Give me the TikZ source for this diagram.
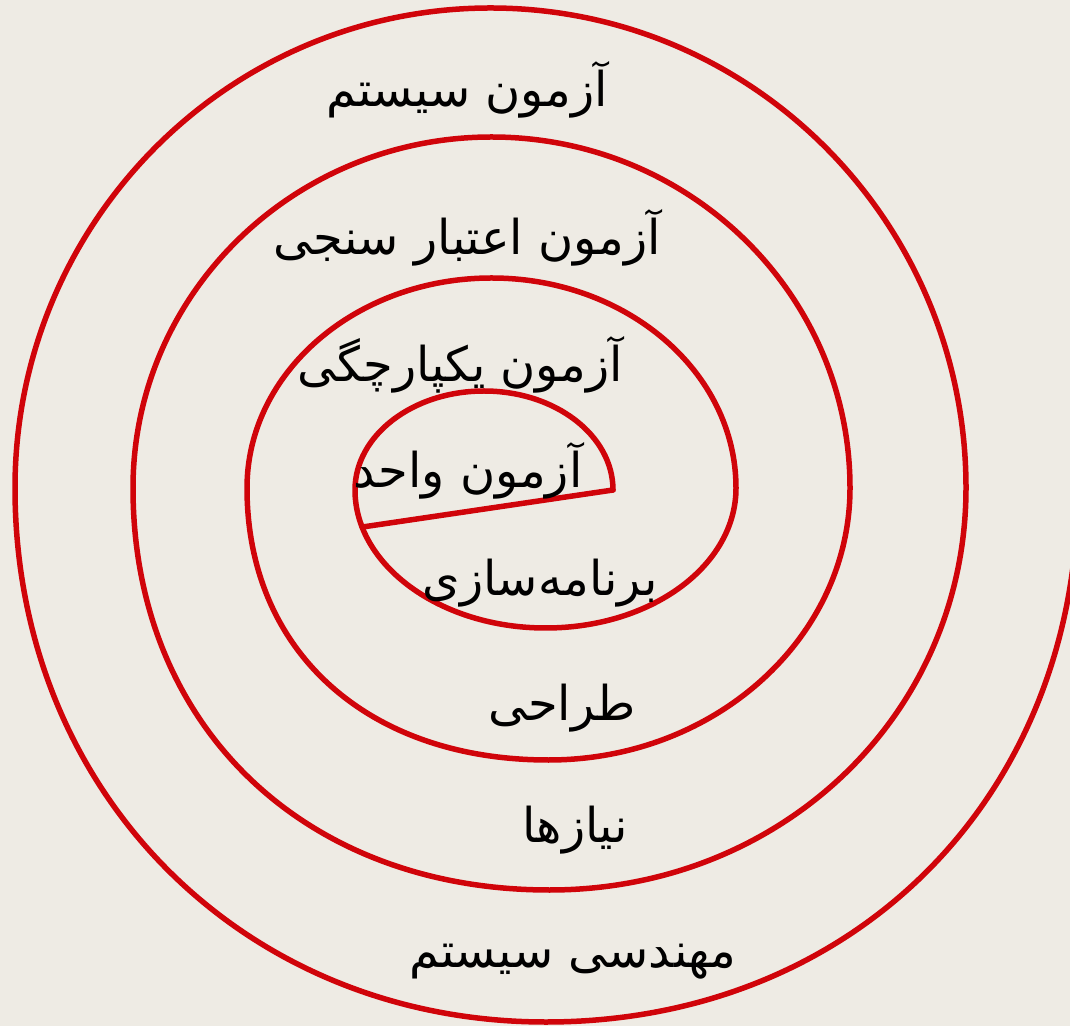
\documentclass[tikz,border=0pt]{standalone}
\usepackage{fontspec}
\TeXXeTstate=1
\newfontfamily\fa[Script=Arabic]{DejaVu Sans}
\definecolor{bgc}{RGB}{238,235,228}
\definecolor{spiralred}{RGB}{208,4,10}
\begin{document}
\begin{tikzpicture}[x=1pt,y=1pt]
\tikzset{
  spiralline/.style={draw=spiralred, line width=5.5pt, line join=round, line cap=round},
  lbl/.style={font=\fa\fontsize{48}{56}\selectfont, text=black, inner sep=0pt}
}
\fill[bgc] (0,0) rectangle (1070,1026);
\useasboundingbox (0,0) rectangle (1070,1026);
\begin{scope}
\clip (0,0) rectangle (1070,1026);
\coordinate (s0) at (613,536);
\draw[spiralline] (s0)
  % inner top half
  arc[start angle=0,end angle=180,x radius=129,y radius=99]
  % B1
  .. controls (355,460.7) and (440.3,398) .. (545.5,398) coordinate[pos=0.17] (s1)
  .. controls (651.8,398) and (736,460.7) .. (736,538)
  arc[start angle=0,end angle=180,x radius=244.5,y radius=210]
  % B2
  .. controls (247,374.8) and (367.6,266) .. (548.5,266)
  .. controls (714.9,266) and (850,388.2) .. (850,538)
  arc[start angle=0,end angle=180,x radius=358.5,y radius=351]
  % B3
  .. controls (133,300.8) and (303.8,136) .. (549.5,136)
  .. controls (782.7,136) and (966,312.9) .. (966,538)
  arc[start angle=0,end angle=180,x radius=475.5,y radius=480]
  % B4
  .. controls (15,233.6) and (243.3,4) .. (546,4)
  .. controls (852.8,4) and (1078,228) .. (1078,538)
  -- (1078,620);
\draw[spiralline] (s0) -- (s1);
\end{scope}
\node[lbl] (t1) at (467,936) {\beginR آزمون سیستم\endR};
\node[lbl] (t2) at (467,788) {\beginR آزمون اعتبار سنجی\endR};
\node[lbl] (t3) at (460,661) {\beginR آزمون یکپارچگی\endR};
\node[lbl] (t4) at (468,555) {\beginR آزمون واحد\endR};
\node[lbl] (t5) at (540,443) {\beginR برنامه‌سازی\endR};
\node[lbl] (t6) at (562,318) {\beginR طراحی\endR};
\node[lbl] (t7) at (575,196) {\beginR نیازها\endR};
\node[lbl] (t8) at (573,64) {\beginR مهندسی سیستم\endR};
\end{tikzpicture}
\end{document}
